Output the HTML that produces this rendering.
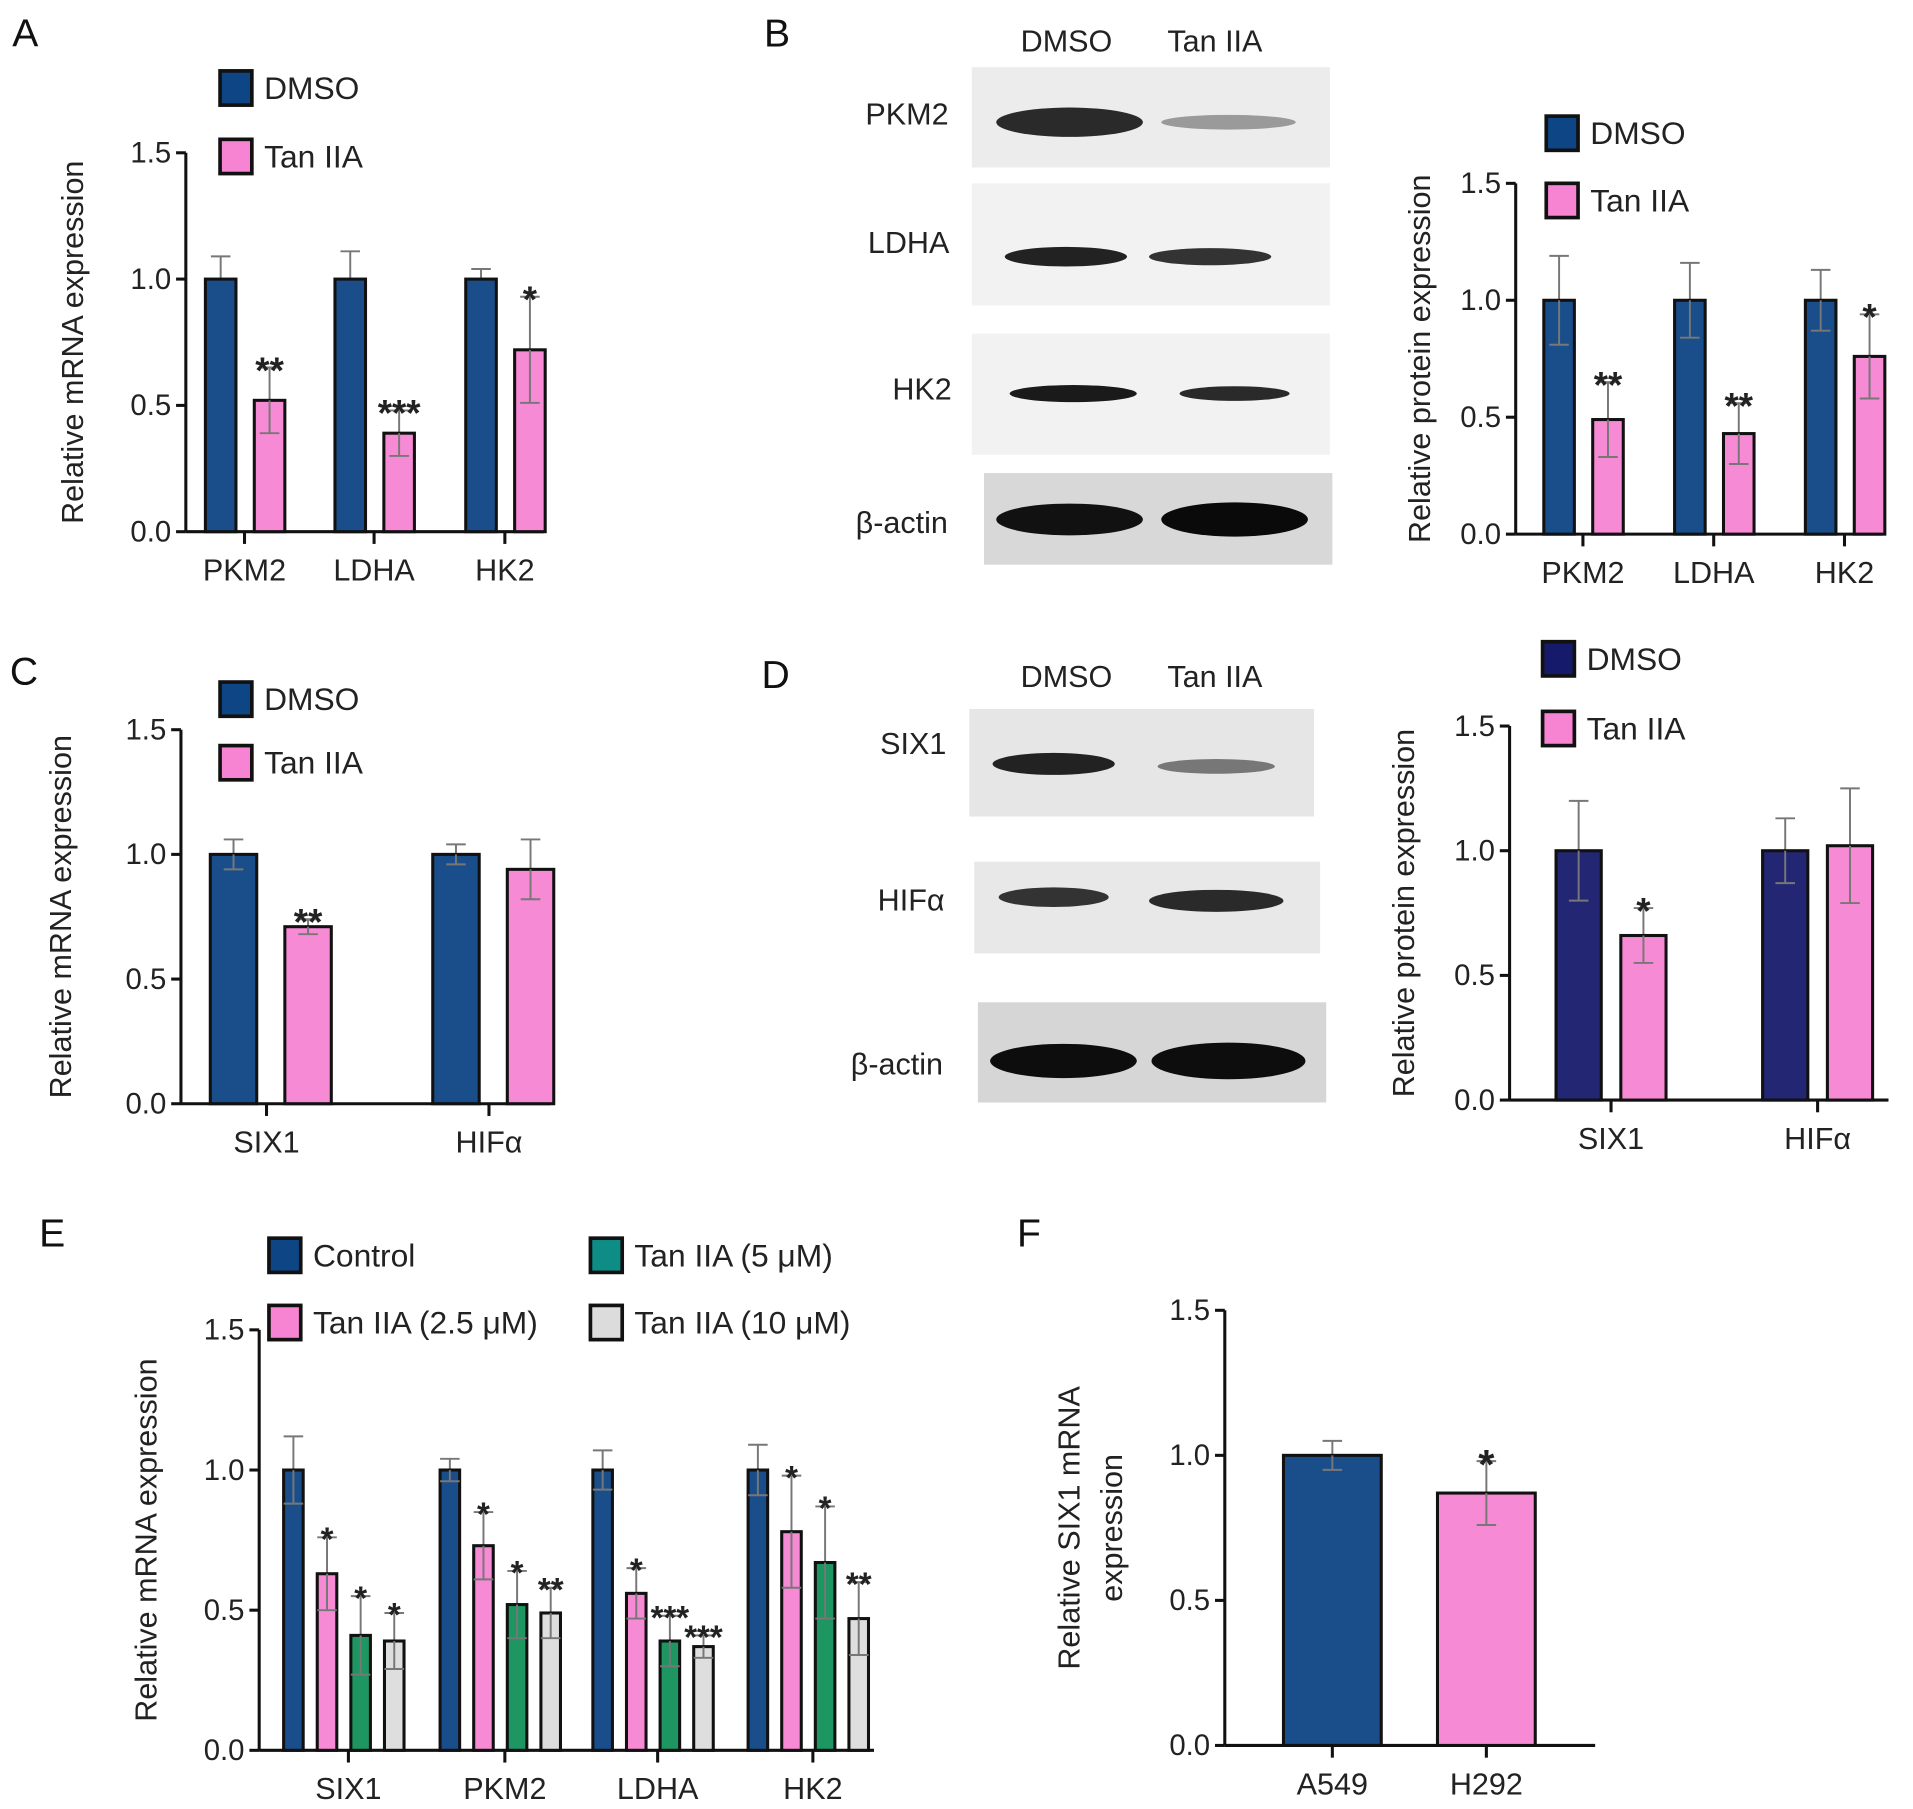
<!DOCTYPE html>
<html><head><meta charset="utf-8"><style>
html,body{margin:0;padding:0;background:#fff}
svg{display:block;font-family:"Liberation Sans",Arial,sans-serif}
</style></head><body>
<svg id="fig" width="1913" height="1809" viewBox="0 0 1565 1480" xmlns="http://www.w3.org/2000/svg">
<g font-size="32" fill="#111">
<text x="10" y="38">A</text>
<text x="625" y="38">B</text>
<text x="8" y="560">C</text>
<text x="623" y="563">D</text>
<text x="32" y="1020">E</text>
<text x="832" y="1020">F</text>
</g>
<g font-size="25" fill="#222">
<text x="835" y="42">DMSO</text>
<text x="955" y="42">Tan IIA</text>
<rect x="795" y="55" width="293" height="82" fill="#ececec"/>
<ellipse cx="875" cy="100" rx="60" ry="12" fill="#2a2a2a"/><ellipse cx="1005" cy="100" rx="55" ry="6" fill="#9a9a9a"/>
<rect x="795" y="150" width="293" height="100" fill="#f2f2f2"/>
<ellipse cx="872" cy="210" rx="50" ry="8" fill="#222"/><ellipse cx="990" cy="210" rx="50" ry="7" fill="#333"/>
<rect x="795" y="273" width="293" height="99" fill="#f2f2f2"/>
<ellipse cx="878" cy="322" rx="52" ry="7" fill="#1a1a1a"/><ellipse cx="1010" cy="322" rx="45" ry="6" fill="#2a2a2a"/>
<rect x="805" y="387" width="285" height="75" fill="#d8d8d8"/>
<ellipse cx="875" cy="425" rx="60" ry="13" fill="#111"/><ellipse cx="1010" cy="425" rx="60" ry="14" fill="#0a0a0a"/>
<text x="708" y="102">PKM2</text>
<text x="710" y="207">LDHA</text>
<text x="730" y="327">HK2</text>
<text x="700" y="436">β-actin</text>
</g>
<g font-size="25" fill="#222">
<text x="835" y="562">DMSO</text>
<text x="955" y="562">Tan IIA</text>
<rect x="793" y="580" width="282" height="88" fill="#e6e6e6"/>
<ellipse cx="862" cy="625" rx="50" ry="9" fill="#222"/><ellipse cx="995" cy="627" rx="48" ry="6" fill="#777"/>
<rect x="797" y="705" width="283" height="75" fill="#e8e8e8"/>
<ellipse cx="862" cy="734" rx="45" ry="8" fill="#333"/><ellipse cx="995" cy="737" rx="55" ry="9" fill="#2a2a2a"/>
<rect x="800" y="820" width="285" height="82" fill="#d6d6d6"/>
<ellipse cx="870" cy="868" rx="60" ry="14" fill="#0d0d0d"/><ellipse cx="1005" cy="868" rx="63" ry="15" fill="#0d0d0d"/>
<text x="720" y="617">SIX1</text>
<text x="718" y="745">HIFα</text>
<text x="696" y="879">β-actin</text>
</g>
</svg>
<script>
const NS="http://www.w3.org/2000/svg";
const svg=document.getElementById('fig');
const yTicks=[0,0.5,1.0,1.5];
const yTickLabels=["0.0","0.5","1.0","1.5"];
// Panel A
const aCats=["PKM2","LDHA","HK2"];
const aDmso=[1.0,1.0,1.0], aDmsoErr=[0.09,0.11,0.04];
const aTan=[0.52,0.39,0.72], aTanErr=[0.13,0.09,0.21];
const aSig=["**","***","*"];
// Panel B
const bCats=["PKM2","LDHA","HK2"];
const bDmso=[1.0,1.0,1.0], bDmsoErr=[0.19,0.16,0.13];
const bTan=[0.49,0.43,0.76], bTanErr=[0.16,0.13,0.18];
const bSig=["**","**","*"];
// Panel C
const cCats=["SIX1","HIFα"];
const cDmso=[1.0,1.0], cDmsoErr=[0.06,0.04];
const cTan=[0.71,0.94], cTanErr=[0.03,0.12];
const cSig=["**",""];
// Panel D
const dCats=["SIX1","HIFα"];
const dDmso=[1.0,1.0], dDmsoErr=[0.2,0.13];
const dTan=[0.66,1.02], dTanErr=[0.11,0.23];
const dSig=["*",""];
// Panel E
const eCats=["SIX1","PKM2","LDHA","HK2"];
const eControl=[1.0,1.0,1.0,1.0], eControlErr=[0.12,0.04,0.07,0.09];
const eT25=[0.63,0.73,0.56,0.78], eT25Err=[0.13,0.12,0.09,0.2];
const eT5=[0.41,0.52,0.39,0.67], eT5Err=[0.14,0.12,0.09,0.2];
const eT10=[0.39,0.49,0.37,0.47], eT10Err=[0.1,0.09,0.04,0.13];
const eSig=[["","*","*","*"],["","*","*","**"],["","*","***","***"],["","*","*","**"]];
// Panel F
const fCats=["A549","H292"];
const fVals=[1.0,0.87], fErr=[0.05,0.11];
const fSig=["","*"];

const NAVY="#0e4585",PINK="#f784d2",GREEN="#12905a",GRAY="#dcdcdc",DNAVY="#161a6b";

function mk(tag,attrs,parent){const e=document.createElementNS(NS,tag);for(const k in attrs)e.setAttribute(k,attrs[k]);(parent||svg).appendChild(e);return e;}
function txt(x,y,s,size,anchor,parent){const t=mk('text',{x:x,y:y,'font-size':size,'text-anchor':anchor||'start',fill:'#222'},parent);t.textContent=s;return t;}

function axes(g,ax,y0,y15,xEnd,centers,cats,title,titleX,fs,tickLen){
  const ys=v=>y0-(y0-y15)*v/1.5;
  mk('line',{x1:ax,y1:y15,x2:ax,y2:y0,stroke:'#111','stroke-width':2.5},g);
  mk('line',{x1:ax,y1:y0,x2:xEnd,y2:y0,stroke:'#111','stroke-width':2.5},g);
  yTicks.forEach((v,i)=>{mk('line',{x1:ax-8,y1:ys(v),x2:ax,y2:ys(v),stroke:'#111','stroke-width':2.5},g);
    const t=txt(ax-12,ys(v)+8,yTickLabels[i],fs,'end',g);
    
    });
  centers.forEach((c,i)=>{mk('line',{x1:c,y1:y0,x2:c,y2:y0+(tickLen||10),stroke:'#111','stroke-width':2.5},g);
    const t=txt(c,y0+40,cats[i],fs+1,'middle',g);
    
    });
  const my=(y0+y15)/2;
  const t=txt(titleX,my,title,fs+1,'middle',g);
  t.setAttribute('transform','rotate(-90 '+titleX+' '+my+')');
  
  
  return ys;
}
function bar(g,ys,x,w,v,err,color,sig,both,sigSize){
  const y=ys(v), y0=ys(0);
  const ey=ys(v+err);
  mk('line',{x1:x+w/2,y1:ey,x2:x+w/2,y2:both?ys(v-err):y,stroke:'#777','stroke-width':1.6},g);
  mk('line',{x1:x+w/2-8,y1:ey,x2:x+w/2+8,y2:ey,stroke:'#777','stroke-width':1.6},g);
  const r=mk('rect',{x:x,y:y,width:w,height:y0-y,fill:color,stroke:'#111','stroke-width':2.5,'fill-opacity':0.95},g);
  
  
  if(both){mk('line',{x1:x+w/2,y1:y,x2:x+w/2,y2:ys(v-err),stroke:'#777','stroke-width':1.6},g);
    mk('line',{x1:x+w/2-8,y1:ys(v-err),x2:x+w/2+8,y2:ys(v-err),stroke:'#777','stroke-width':1.6},g);}
  if(sig){const s=sigSize||30;const t=txt(x+w/2,ey-4+s*0.55,sig,s,'middle',g);t.setAttribute('font-weight','bold');
    
    }
}
function legend(g,x,y,color,label,fs){
  const r=mk('rect',{x:x,y:y,width:26,height:28,fill:color,stroke:'#111','stroke-width':3},g);
  
  
  const t=txt(x+36,y+23,label,fs||26,'start',g);
  
  
}
function group(name){const g=mk('g',{});return g;}

// A
(function(){const g=group('chart-a');
 const cen=[200,306,413];
 const ys=axes(g,152,435,125,445,cen,aCats,'Relative mRNA expression',68,24);
 cen.forEach((c,i)=>{bar(g,ys,c-32,25,aDmso[i],aDmsoErr[i],NAVY,'',false);bar(g,ys,c+8,25,aTan[i],aTanErr[i],PINK,aSig[i],true);});
 legend(g,180,58,NAVY,'DMSO');legend(g,180,114,PINK,'Tan IIA');})();
// B
(function(){const g=group('chart-b');
 const cen=[1295,1402,1509];
 const ys=axes(g,1240,437,150,1540,cen,bCats,'Relative protein expression',1170,24);
 cen.forEach((c,i)=>{bar(g,ys,c-32,25,bDmso[i],bDmsoErr[i],NAVY,'',true);bar(g,ys,c+8,25,bTan[i],bTanErr[i],PINK,bSig[i],true);});
 legend(g,1265,95,NAVY,'DMSO');legend(g,1265,150,PINK,'Tan IIA');})();
// C
(function(){const g=group('chart-c');
 const cen=[218,400];
 const ys=axes(g,148,903,597,450,cen,cCats,'Relative mRNA expression',58,24);
 cen.forEach((c,i)=>{bar(g,ys,c-46,38,cDmso[i],cDmsoErr[i],NAVY,'',true);bar(g,ys,c+15,38,cTan[i],cTanErr[i],PINK,cSig[i],true);});
 legend(g,180,558,NAVY,'DMSO');legend(g,180,610,PINK,'Tan IIA');})();
// D
(function(){const g=group('chart-d');
 const cen=[1318,1487];
 const ys=axes(g,1235,900,594,1545,cen,dCats,'Relative protein expression',1157,24);
 cen.forEach((c,i)=>{bar(g,ys,c-45,37,dDmso[i],dDmsoErr[i],DNAVY,'',true);bar(g,ys,c+8,37,dTan[i],dTanErr[i],PINK,dSig[i],true);});
 legend(g,1262,525,DNAVY,'DMSO');legend(g,1262,582,PINK,'Tan IIA');})();
// E
(function(){const g=group('chart-e');
 const cen=[285,413,538,665];
 const ys=axes(g,212,1432,1088,715,cen,eCats,'Relative mRNA expression',128,24);
 const ser=[[eControl,eControlErr,NAVY],[eT25,eT25Err,PINK],[eT5,eT5Err,GREEN],[eT10,eT10Err,GRAY]];
 cen.forEach((c,i)=>{ser.forEach((s,j)=>{bar(g,ys,c-53+j*27.5,16,s[0][i],s[1][i],s[2],eSig[i][j],true,27);});});
 legend(g,220,1013,NAVY,'Control');legend(g,220,1068,PINK,'Tan IIA (2.5 μM)');
 legend(g,483,1013,'#0e8c86','Tan IIA (5 μM)');legend(g,483,1068,GRAY,'Tan IIA (10 μM)');})();
// F
(function(){const g=group('chart-f');
 const cen=[1090,1216];
 const ys=axes(g,1002,1428,1072,1305,cen,fCats,'',0,24);
 const cols=[NAVY,PINK];
 cen.forEach((c,i)=>{bar(g,ys,c-40,80,fVals[i],fErr[i],cols[i],fSig[i],true,34);});
 const t1=txt(883,1250,'Relative SIX1 mRNA',25,'middle',g);t1.setAttribute('transform','rotate(-90 883 1250)');
 
 
 const t2=txt(918,1250,'expression',25,'middle',g);t2.setAttribute('transform','rotate(-90 918 1250)');
 
 })();
</script>
</body></html>
